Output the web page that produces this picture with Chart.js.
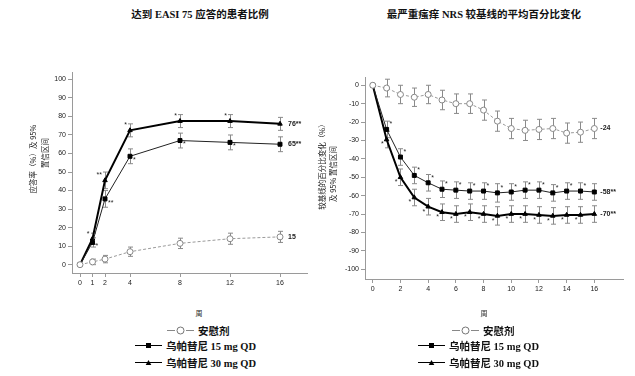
<!DOCTYPE html>
<html>
<head>
<meta charset="utf-8">
<script src="https://cdn.jsdelivr.net/npm/chart.js@4"></script>
<style>
  body { margin: 0; background: #fff; width: 635px; height: 376px; position: relative; overflow: hidden; }
  .title { position: absolute; top: 6px; font: bold 10.5px "Liberation Serif", "Noto Sans CJK SC", serif; color: #111; white-space: nowrap; transform: translateX(-50%); }
  .xlab { position: absolute; font: 7px "Noto Sans CJK SC", sans-serif; color: #222; transform: translate(-50%, -50%); }
  .leg { position: absolute; font: bold 10.5px "Liberation Serif", "Noto Sans CJK SC", serif; color: #111; white-space: nowrap; display: flex; align-items: center; transform: translateY(-50%); }
  .leg svg { margin-right: 4px; }
  canvas { position: absolute; }
</style>
</head>
<body>
<div class="title" style="left:200px">达到 EASI 75 应答的患者比例</div>
<div class="title" style="left:484px">最严重瘙痒 NRS 较基线的平均百分比变化</div>
<canvas id="chartLeft" style="left:0;top:60px" width="320" height="240"></canvas>
<canvas id="chartRight" style="left:314px;top:60px" width="321" height="240"></canvas>
<div id="legends"></div>
<script>
// ---- EASI 75 response (left) ----
const easiWeeks = [0, 1, 2, 4, 8, 12, 16];
const easiPlacebo = [0, 1.5, 3, 7, 11.5, 14, 15];
const easiPlaceboErr = [0, 1.5, 2, 2.5, 2.8, 3, 3];
const easi15 = [0, 12, 35.5, 58.5, 67, 66, 65];
const easi15Err = [0, 2.5, 4.5, 4, 4, 4, 4];
const easi30 = [0, 14, 45.5, 72.5, 77.5, 77.5, 76];
const easi30Err = [0, 3, 4.5, 3.5, 3.5, 3.5, 3.5];
const easiStars15 = ['', '*', '**', '*', '*', '*', ''];
const easiStars30 = ['', '*', '**', '*', '*', '*', ''];
const easiEndLabels = ['15', '65**', '76**'];

// ---- worst pruritus NRS % change (right) ----
const nrsWeeks = [0, 1, 2, 3, 4, 5, 6, 7, 8, 9, 10, 11, 12, 13, 14, 15, 16];
const nrsTicks = [0, 2, 4, 6, 8, 10, 12, 14, 16];
const nrsPlacebo = [0, -1.5, -5, -6.5, -5, -8, -10, -10, -13.5, -19.5, -23.5, -24.5, -24, -23.5, -26, -25.5, -23.5];
const nrsPlaceboErr = [0, 4.8, 5, 5, 5, 5.3, 5.3, 5.3, 5.5, 5.5, 5.5, 5.5, 5.5, 5.5, 5.5, 5.5, 5.5];
const nrs15 = [0, -24, -39, -49, -53, -56.5, -57, -57.5, -57.5, -58.5, -58, -57, -57, -58.5, -57.5, -57.5, -58];
const nrs15Err = [0, 4.5, 4.5, 4.5, 4.5, 4.5, 4.5, 4.5, 4.5, 5, 4.5, 4.5, 4.5, 4.5, 4.5, 4.5, 4.5];
const nrs30 = [0, -29.5, -50, -61, -66, -69, -70, -69, -70, -71, -70, -70, -70.5, -71, -70.5, -70.5, -70];
const nrs30Err = [0, 4.5, 4.5, 4.5, 4.5, 4.5, 4.5, 4.5, 4.5, 5, 4.5, 4.5, 4.5, 4.5, 4.5, 4.5, 4.5];
const nrsStars = ['', '*', '*', '*', '*', '*', '*', '*', '*', '*', '*', '*', '*', '*', '*', '*', ''];
const nrsEndLabels = ['-24', '-58**', '-70**'];

const tickFont = { family: 'Liberation Sans, Arial, sans-serif', size: 7 };
const grayLine = '#9a9a9a';

// error bars, stars and end labels all go through the chart scales
const decorPlugin = {
  id: 'decor',
  beforeDatasetsDraw(chart) {
    const ctx = chart.ctx;
    const xs = chart.scales.x, ys = chart.scales.y;
    ctx.save();
    ctx.strokeStyle = '#8a8a8a';
    ctx.lineWidth = 1;
    chart.data.datasets.forEach(ds => {
      ds.data.forEach((p, i) => {
        const e = ds.errors[i];
        if (!e) return;
        const x = Math.round(xs.getPixelForValue(p.x)) + 0.5;
        const y1 = ys.getPixelForValue(p.y + e), y2 = ys.getPixelForValue(p.y - e);
        ctx.beginPath();
        ctx.moveTo(x, y1); ctx.lineTo(x, y2);
        ctx.moveTo(x - 2.5, y1); ctx.lineTo(x + 2.5, y1);
        ctx.moveTo(x - 2.5, y2); ctx.lineTo(x + 2.5, y2);
        ctx.stroke();
      });
    });
    ctx.restore();
  },
  afterDraw(chart) {
    const ctx = chart.ctx;
    const xs = chart.scales.x, ys = chart.scales.y;
    const o = chart.options.plugins.decor;
    ctx.save();
    ctx.fillStyle = '#222';
    ctx.font = '7px Liberation Sans, Arial, sans-serif';
    ctx.textBaseline = 'middle';
    chart.data.datasets.forEach(ds => {
      if (!ds.stars) return;
      ds.data.forEach((p, i) => {
        const s = ds.stars[i];
        if (!s) return;
        const x = xs.getPixelForValue(p.x), y = ys.getPixelForValue(p.y);
        ctx.textAlign = ds.starDx < 0 ? 'right' : 'left';
        ctx.fillText(s, x + ds.starDx, y + ds.starDy);
      });
    });
    // end labels
    ctx.textAlign = 'left';
    ctx.font = 'bold 7px Liberation Sans, Arial, sans-serif';
    chart.data.datasets.forEach((ds, k) => {
      const p = ds.data[ds.data.length - 1];
      ctx.fillText(o.endLabels[k], xs.getPixelForValue(p.x) + o.endDx, ys.getPixelForValue(p.y));
    });
    // y axis title
    ctx.font = '7.5px "Noto Sans CJK SC", sans-serif';
    ctx.textAlign = 'center';
    o.yTitle.forEach(t => {
      ctx.save();
      ctx.translate(t.x, t.y);
      ctx.rotate(-Math.PI / 2);
      ctx.fillText(t.text, 0, 0);
      ctx.restore();
    });
    ctx.restore();
  }
};

function makeDatasets(weeks, pl, plErr, d15, e15, d30, e30, stars15, stars30, starOff) {
  const pts = arr => weeks.map((w, i) => ({ x: w, y: arr[i] }));
  return [
    {
      label: '安慰剂', data: pts(pl), errors: plErr,
      borderColor: grayLine, borderWidth: 1, borderDash: [3, 2],
      pointStyle: 'circle', pointRadius: 3, pointBackgroundColor: '#fff', pointBorderColor: '#888', pointBorderWidth: 1
    },
    {
      label: '乌帕替尼 15 mg QD', data: pts(d15), errors: e15, stars: stars15, starDx: starOff[0][0], starDy: starOff[0][1],
      borderColor: '#222', borderWidth: 1,
      pointStyle: 'rect', pointRadius: 2.8, pointBackgroundColor: '#000', pointBorderColor: '#000'
    },
    {
      label: '乌帕替尼 30 mg QD', data: pts(d30), errors: e30, stars: stars30, starDx: starOff[1][0], starDy: starOff[1][1],
      borderColor: '#000', borderWidth: 2,
      pointStyle: 'triangle', pointRadius: 2.6, pointBackgroundColor: '#000', pointBorderColor: '#000', pointBorderWidth: 1
    }
  ];
}

function axisOpts(min, max, ticks, stepY, yMin, yMax, yTickMin, yTickMax, yWidth, xHeight) {
  return {
    x: {
      type: 'linear', min: min, max: max,
      border: { color: grayLine },
      grid: { display: true, drawOnChartArea: false, drawTicks: true, tickLength: 4, color: grayLine },
      ticks: { font: tickFont, color: '#222', padding: 2, maxRotation: 0 },
      afterBuildTicks: s => { s.ticks = ticks.map(v => ({ value: v })); },
      afterFit: s => { s.height = xHeight; }
    },
    y: {
      min: yMin, max: yMax,
      border: { color: grayLine },
      grid: { display: true, drawOnChartArea: false, drawTicks: true, tickLength: 4, color: grayLine },
      ticks: { font: tickFont, color: '#222', padding: 2 },
      afterBuildTicks: s => {
        const t = [];
        for (let v = yTickMin; v <= yTickMax + 0.01; v += stepY) t.push({ value: v });
        s.ticks = t;
      },
      afterFit: s => { s.width = yWidth; }
    }
  };
}

new Chart(document.getElementById('chartLeft'), {
  type: 'line',
  data: { datasets: makeDatasets(easiWeeks, easiPlacebo, easiPlaceboErr, easi15, easi15Err, easi30, easi30Err, easiStars15, easiStars30, [[3, 4], [-3, -5]]) },
  options: {
    responsive: false, animation: false,
    layout: { padding: { left: 20, right: 13, top: 12, bottom: 0 } },
    scales: axisOpts(-0.64, 18.16, easiWeeks, 10, -4.5, 104, 0, 100, 52, 27),
    plugins: {
      legend: { display: false }, tooltip: { enabled: false },
      decor: {
        endLabels: easiEndLabels, endDx: 8,
        yTitle: [{ text: '应答率（%）及 95%', x: 33, y: 99 }, { text: '置信区间', x: 45, y: 93 }]
      }
    }
  },
  plugins: [decorPlugin]
});

new Chart(document.getElementById('chartRight'), {
  type: 'line',
  data: { datasets: makeDatasets(nrsWeeks, nrsPlacebo, nrsPlaceboErr, nrs15, nrs15Err, nrs30, nrs30Err, nrsStars, nrsStars, [[3, -5], [-3, 5]]) },
  options: {
    responsive: false, animation: false,
    layout: { padding: { left: 20, right: 12, top: 17, bottom: 0 } },
    scales: axisOpts(-0.56, 18.07, nrsTicks, 10, -105.3, 4.5, -100, 0, 31, 21),
    plugins: {
      legend: { display: false }, tooltip: { enabled: false },
      decor: {
        endLabels: nrsEndLabels, endDx: 6,
        yTitle: [{ text: '较基线的百分比变化（%）', x: 8, y: 105 }, { text: '及 95% 置信区间', x: 19, y: 114 }]
      }
    }
  },
  plugins: [decorPlugin]
});

// legends under each chart
const legendNames = ['安慰剂', '乌帕替尼 15 mg QD', '乌帕替尼 30 mg QD'];
function sample(kind) {
  if (kind === 0) {
    return '<svg width="27" height="10"><line x1="0" y1="5" x2="8" y2="5" stroke="#888" stroke-width="1"/>' +
      '<line x1="19" y1="5" x2="27" y2="5" stroke="#888" stroke-width="1"/>' +
      '<circle cx="13.5" cy="5" r="3.5" fill="#fff" stroke="#777" stroke-width="1"/></svg>';
  }
  const mark = kind === 1
    ? '<rect x="11" y="2.5" width="5" height="5" fill="#000"/>'
    : '<polygon points="13.5,2.5 16.3,7.5 10.7,7.5" fill="#000"/>';
  return '<svg width="27" height="10"><line x1="0" y1="5" x2="27" y2="5" stroke="#000" stroke-width="1.2"/>' + mark + '</svg>';
}
const legendSpots = [
  { xlab: 199, rows: [[167, 330], [135, 345], [135, 362]] },
  { xlab: 484, rows: [[452, 330], [418, 345], [418, 362]] }
];
const holder = document.getElementById('legends');
legendSpots.forEach(spot => {
  holder.insertAdjacentHTML('beforeend', `<div class="xlab" style="left:${spot.xlab}px;top:313px">周</div>`);
  spot.rows.forEach((r, k) => {
    holder.insertAdjacentHTML('beforeend',
      `<div class="leg" style="left:${r[0]}px;top:${r[1]}px">${sample(k)}${legendNames[k]}</div>`);
  });
});
</script>
</body>
</html>
